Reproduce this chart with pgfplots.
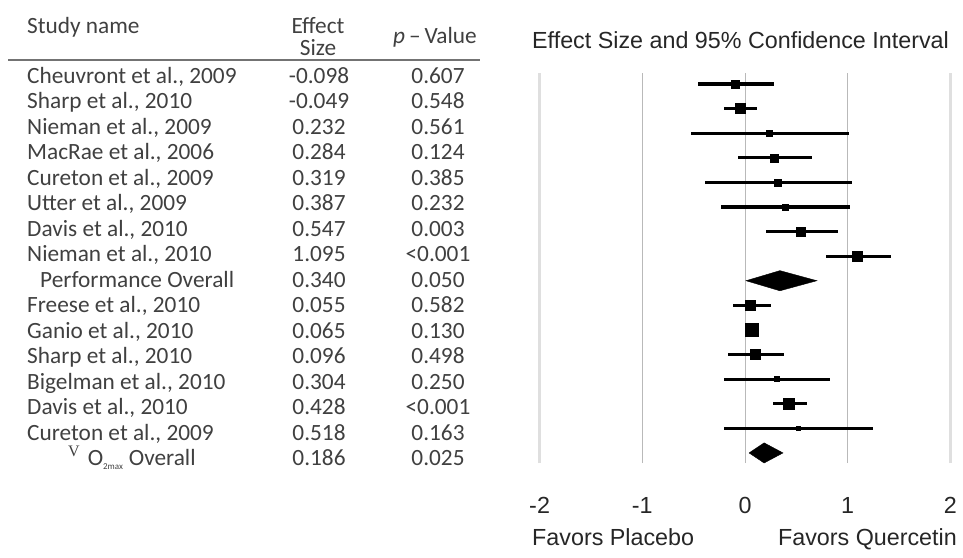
\documentclass[border=0pt]{standalone}
\usepackage{pgfplots}
\pgfplotsset{compat=1.18}
\usepackage{pgfplotstable}
\usepackage{fontspec}
\setmainfont{Liberation Sans}[Ligatures=NoCommon]
\newfontfamily\calfont{Carlito}
\newfontfamily\serfont{Liberation Serif}

% row = study index - 1 (0 = top), es = effect size, lo/hi = 95% CI, ms = half side of square
\pgfplotstableread{
row es     lo     hi    ms
0   -0.098 -0.46  0.28  4
1   -0.049 -0.20  0.12  5
2   0.232  -0.53  1.01  3
3   0.284  -0.07  0.65  4
4   0.319  -0.39  1.04  3.5
5   0.387  -0.23  1.02  3
6   0.547  0.20   0.91  4.5
7   1.095  0.79   1.42  5
9   0.055  -0.12  0.25  5
10  0.065  0.01   0.14  6.5
11  0.096  -0.17  0.38  5
12  0.304  -0.20  0.83  2.5
13  0.428  0.27   0.60  5.5
14  0.518  -0.20  1.25  2
}\studies

\begin{document}
\begin{tikzpicture}[x=1pt,y=1pt]
\path (0pt,0pt) rectangle (963pt,-557pt);

\begin{scope}[font=\calfont\fontsize{23.3}{22}\selectfont, text=black!75]
\node[anchor=base west, inner sep=0] at (27pt,-33pt) {Study name};
\node[anchor=base, inner sep=0] at (318pt,-33pt) {Effect};
\node[anchor=base, inner sep=0] at (318pt,-55pt) {Size};
\node[anchor=base, inner sep=0] at (435pt,-43pt) {\textit{p}\,–\,Value};
\draw[black!55, line width=1.5pt] (8pt,-60pt) -- (480pt,-60pt);
\foreach \i/\n/\e/\p in {
  1/{Cheuvront et al., 2009}/-0.098/0.607,
  2/{Sharp et al., 2010}/-0.049/0.548,
  3/{Nieman et al., 2009}/0.232/0.561,
  4/{MacRae et al., 2006}/0.284/0.124,
  5/{Cureton et al., 2009}/0.319/0.385,
  6/{Utter et al., 2009}/0.387/0.232,
  7/{Davis et al., 2010}/0.547/0.003,
  8/{Nieman et al., 2010}/1.095/{<0.001},
  9/{\hspace*{13pt}Performance Overall}/0.340/0.050,
  10/{Freese et al., 2010}/0.055/0.582,
  11/{Ganio et al., 2010}/0.065/0.130,
  12/{Sharp et al., 2010}/0.096/0.498,
  13/{Bigelman et al., 2010}/0.304/0.250,
  14/{Davis et al., 2010}/0.428/{<0.001},
  15/{Cureton et al., 2009}/0.518/0.163,
  16/{\hspace*{41pt}\raisebox{9pt}{\serfont\fontsize{16}{16}\selectfont V}\hspace{8pt}O\textsubscript{\fontsize{9}{9}\selectfont 2max} Overall}/0.186/0.025}
{
  \pgfmathsetmacro\yb{-(83+(\i-1)*25.5)}
  \node[anchor=base west, inner sep=0] at (27pt,\yb pt) {\n};
  \node[anchor=base, inner sep=0] at (319pt,\yb pt) {\e};
  \node[anchor=base, inner sep=0] at (438pt,\yb pt) {\p};
}
\end{scope}

\node[anchor=base west, inner sep=0, font=\fontsize{23.3}{23}\selectfont, text=black!85] at (532pt,-48pt) {Effect Size and 95\% Confidence Interval};
\node[anchor=base west, inner sep=0, font=\fontsize{23.3}{23}\selectfont, text=black!85] at (532pt,-545pt) {Favors Placebo};
\node[anchor=base east, inner sep=0, font=\fontsize{23.3}{23}\selectfont, text=black!85] at (957pt,-545pt) {Favors Quercetin};

\begin{axis}[
  at={(539.6pt,-463pt)}, anchor=south west,
  x=102.7pt, y=24.6pt,
  xmin=-2, xmax=2, ymin=-15.41, ymax=0.45,
  clip=false,
  axis line style={draw=none},
  major tick length=0pt,
  ytick=\empty,
  xtick={-1,0,1},
  xticklabels={-1,0,1},
  extra x ticks={-2,2},
  extra x tick labels={-2,2},
  extra x tick style={grid style={gray!25, line width=3pt}},
  xmajorgrids,
  grid style={gray!55, line width=0.9pt},
  xticklabel style={font=\fontsize{23.3}{23}\selectfont, text=black!85, anchor=base, yshift=-50pt},
]
\addplot[scatter, only marks, mark=square*,
  scatter/use mapped color={draw=black, fill=black},
  visualization depends on={\thisrow{ms}\as\msz},
  scatter/@pre marker code/.append style={/tikz/mark size=\msz},
  error bars/.cd, x dir=both, x explicit, error mark=none,
  error bar style={line width=3.2pt, black}]
  table[x=es, y expr=-\thisrow{row},
        x error plus expr=\thisrow{hi}-\thisrow{es},
        x error minus expr=\thisrow{es}-\thisrow{lo}] {\studies};
% overall diamonds
\addplot[black, fill=black] coordinates {(0.01,-8) (0.340,-7.59) (0.70,-8) (0.340,-8.41)} -- cycle;
\addplot[black, fill=black] coordinates {(0.04,-15) (0.186,-14.59) (0.37,-15) (0.186,-15.41)} -- cycle;
\end{axis}
\end{tikzpicture}
\end{document}
